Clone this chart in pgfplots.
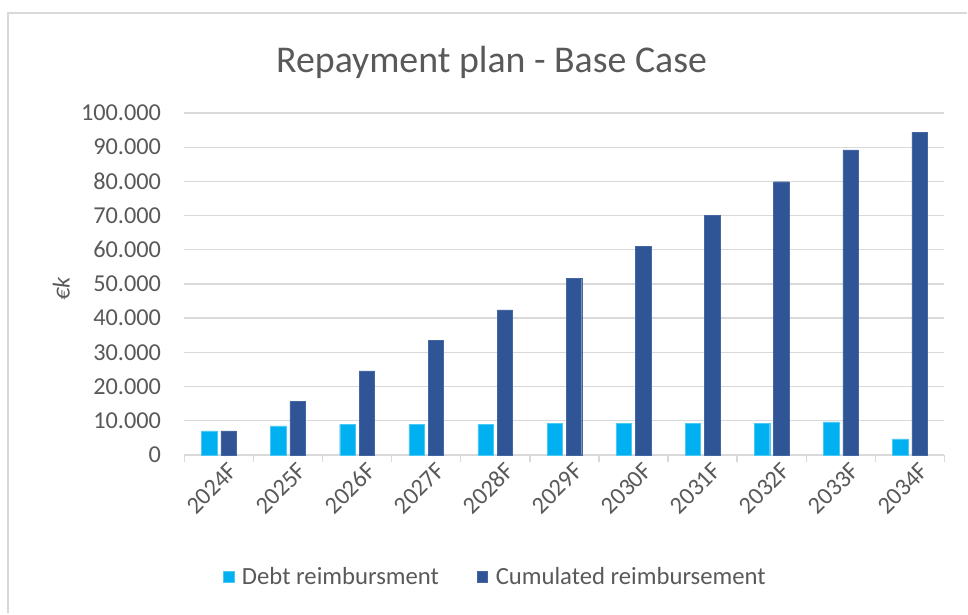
\documentclass[border=0pt]{standalone}
\usepackage{pgfplots}
\pgfplotsset{compat=1.18}
\usepackage{fontspec}
\setmainfont{Carlito}
\definecolor{lblue}{HTML}{00B0F0}
\definecolor{dblue}{HTML}{2F5597}
\definecolor{gridc}{HTML}{D9D9D9}
\definecolor{txt}{HTML}{595959}
\begin{document}
\begin{tikzpicture}
\begin{axis}[
  at={(0,0)},
  scale only axis,
  width=767bp, height=345bp,
  xmin=-0.5, xmax=10.5,
  ymin=0, ymax=100000,
  ybar=4bp,
  bar width=15.5bp,
  xtick={-0.5,0.5,...,10.5},
  x tick label as interval,
  xticklabels={2024F,2025F,2026F,2027F,2028F,2029F,2030F,2031F,2032F,2033F,2034F},
  x tick label style={rotate=45, anchor=east, xshift=10bp, yshift=-14bp},
  x tick style={draw=gridc, line width=1.5bp},
  tick align=outside,
  major tick length=7bp,
  ytick={0,10000,...,100000},
  y tick style={draw=none},
  ymajorgrids,
  grid style={draw=gridc, line width=1.3bp},
  axis x line*=bottom,
  axis y line*=left,
  y axis line style={draw=none},
  x axis line style={draw=gridc, line width=1.8bp, -},
  ticklabel style={font=\fontsize{24.6}{29}\selectfont, text=txt},
  /pgf/number format/assume math mode=true,
  /pgf/number format/fixed,
  /pgf/number format/precision=0,
  /pgf/number format/1000 sep={.},
  scaled y ticks=false,
  y tick label style={xshift=-13bp},
  every axis y label/.style={at={(axis description cs:-0.162,0.485)}, rotate=90, anchor=center},
  ylabel={\fontsize{24.6}{29}\selectfont\color{txt}\textit{€k}},
  legend style={at={(axis description cs:0.409,-0.357)}, anchor=center, draw=none, fill=none,
    legend columns=2, font=\fontsize{25}{30}\selectfont\color{txt},
    /tikz/every even column/.append style={column sep=36bp}},
  legend image code/.code={\fill[#1] (0bp,-5.5bp) rectangle (11bp,5.5bp);},
  clip=false,
]
\addplot[fill=lblue, draw=lblue!70!white] coordinates {
(0,7000) (1,8500) (2,8900) (3,8900) (4,8900) (5,9200) (6,9200) (7,9200) (8,9200) (9,9650) (10,4700)};
\addplot[fill=dblue, draw=dblue!90!white] coordinates {
(0,7000) (1,15600) (2,24600) (3,33400) (4,42400) (5,51600) (6,60900) (7,70100) (8,79900) (9,89200) (10,94400)};
\legend{\hspace{6bp}Debt reimbursment, \hspace{6bp}Cumulated reimbursement}
\end{axis}
\node[text=txt, font=\fontsize{38.3}{45}\selectfont] at (310bp,396bp) {Repayment plan - Base Case};
\draw[gridc, line width=1.5bp] (-178bp,-160bp) -- (-178bp,446bp) -- (790bp,446bp);
\path[use as bounding box] (-186bp,-152bp) rectangle (782bp,459bp);
\end{tikzpicture}
\end{document}
